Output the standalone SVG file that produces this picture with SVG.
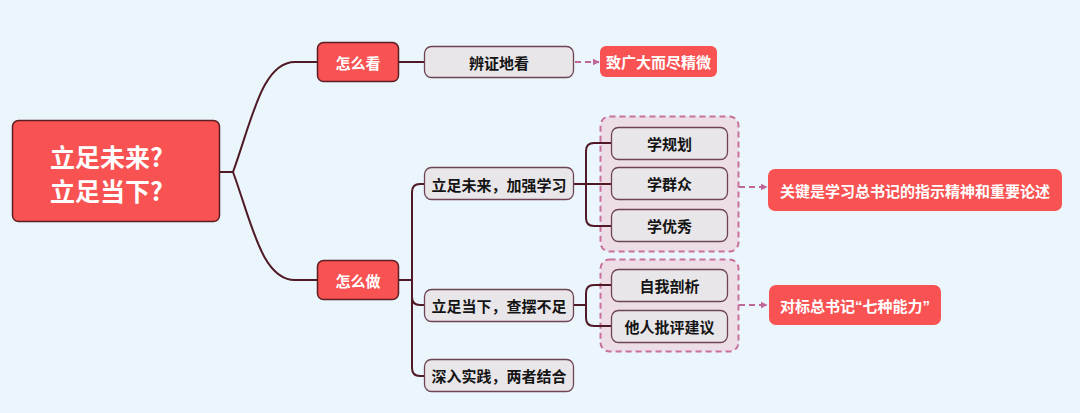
<svg xmlns="http://www.w3.org/2000/svg" width="1080" height="413" viewBox="0 0 1080 413">
  <defs>
    <marker id="arrow" viewBox="0 0 10 10" refX="9" refY="5" markerWidth="7" markerHeight="7" markerUnits="userSpaceOnUse" orient="auto">
      <path d="M0,0 L10,5 L0,10 Z" fill="#c0679a"/>
    </marker>
    <style>
      text { font-family: "Noto Sans CJK SC", "Noto Sans", "Liberation Sans", sans-serif; font-weight: bold; text-anchor: middle; dominant-baseline: central; }
      .q { font-family: "Liberation Sans", "Noto Sans", sans-serif; }
      .red { fill: #f95252; stroke: #5c1e25; stroke-width: 1.5; }
      .callout { fill: #f95252; stroke: none; }
      .gray { fill: #e8e6e9; stroke: #6e4454; stroke-width: 1.3; }
      .group { fill: #ecdde7; stroke: #c9709b; stroke-width: 2; stroke-dasharray: 6 4; }
      .wt { fill: #ffffff; font-size: 15px; }
      .bt { fill: #141414; font-size: 15px; }
      .conn { fill: none; stroke: #4f1a26; stroke-width: 2; }
      .dash { fill: none; stroke: #c0679a; stroke-width: 2; stroke-dasharray: 6 4; }
    </style>
  </defs>
  <rect x="0" y="0" width="1080" height="413" fill="#eaf6fc"/>

  <g id="groups">
    <rect class="group" x="600.5" y="116.5" width="138" height="135" rx="9"/>
    <rect class="group" x="600.5" y="259.5" width="138" height="92" rx="9"/>
  </g>

  <g id="connectors">
    <path class="conn" d="M220,172 H233 C252,120 262,62 295,62 H317"/>
    <path class="conn" d="M233,172 C252,224 262,280 295,280 H317"/>
    <path class="conn" d="M399,62 H424"/>
    <path class="conn" d="M399,280 H412"/>
    <path class="conn" d="M412,280 V192 Q412,184 420,184 H424"/>
    <path class="conn" d="M412,280 V297 Q412,305 420,305 H424"/>
    <path class="conn" d="M412,280 V368 Q412,376 420,376 H424"/>
    <path class="conn" d="M574,184 H611"/>
    <path class="conn" d="M586,184 V151 Q586,143 594,143 H611"/>
    <path class="conn" d="M586,184 V218 Q586,226 594,226 H611"/>
    <path class="conn" d="M574,305 H586"/>
    <path class="conn" d="M586,305 V293 Q586,285 594,285 H611"/>
    <path class="conn" d="M586,305 V318 Q586,326 594,326 H611"/>
    <path class="dash" d="M575,62 H599" marker-end="url(#arrow)"/>
    <path class="dash" d="M739,187 H767" marker-end="url(#arrow)"/>
    <path class="dash" d="M739,305 H767" marker-end="url(#arrow)"/>
  </g>

  <g id="root">
    <rect class="red" x="12.5" y="120.5" width="207" height="101" rx="6"/>
    <text x="50" y="156" style="text-anchor:start;fill:#fff;font-size:25px">立足未来?</text>
    <text x="50" y="190" style="text-anchor:start;fill:#fff;font-size:25px">立足当下?</text>
  </g>

  <g id="n-kan">
    <rect class="red" x="317.5" y="42.5" width="81" height="39" rx="6"/>
    <text class="wt" x="358" y="62">怎么看</text>
  </g>
  <g id="n-bianzheng">
    <rect class="gray" x="424.5" y="46.5" width="149" height="31" rx="7"/>
    <text class="bt" x="499" y="62">辨证地看</text>
  </g>
  <g id="n-zhiguangda">
    <rect class="callout" x="600" y="46" width="117" height="31" rx="6"/>
    <text class="wt" x="658.5" y="61.5">致广大而尽精微</text>
  </g>

  <g id="n-zuo">
    <rect class="red" x="317.5" y="260.5" width="81" height="39" rx="6"/>
    <text class="wt" x="358" y="280">怎么做</text>
  </g>

  <g id="n-weilai">
    <rect class="gray" x="424.5" y="167.5" width="149" height="32" rx="7"/>
    <text class="bt" x="499" y="184">立足未来，加强学习</text>
  </g>
  <g id="n-guihua">
    <rect class="gray" x="611.5" y="127.5" width="116" height="32" rx="7"/>
    <text class="bt" x="669.5" y="143.5">学规划</text>
  </g>
  <g id="n-qunzhong">
    <rect class="gray" x="611.5" y="167.5" width="116" height="32" rx="7"/>
    <text class="bt" x="669.5" y="183.5">学群众</text>
  </g>
  <g id="n-youxiu">
    <rect class="gray" x="611.5" y="209.5" width="116" height="32" rx="7"/>
    <text class="bt" x="669.5" y="225.5">学优秀</text>
  </g>
  <g id="n-guanjian">
    <rect class="callout" x="768" y="169" width="294" height="42" rx="7"/>
    <text class="wt" x="915" y="190">关键是学习总书记的指示精神和重要论述</text>
  </g>

  <g id="n-dangxia">
    <rect class="gray" x="424.5" y="289.5" width="149" height="32" rx="7"/>
    <text class="bt" x="499" y="305.5">立足当下，查摆不足</text>
  </g>
  <g id="n-ziwo">
    <rect class="gray" x="611.5" y="269.5" width="116" height="32" rx="7"/>
    <text class="bt" x="669.5" y="285.5">自我剖析</text>
  </g>
  <g id="n-taren">
    <rect class="gray" x="611.5" y="310.5" width="116" height="32" rx="7"/>
    <text class="bt" x="669.5" y="326.5">他人批评建议</text>
  </g>
  <g id="n-duibiao">
    <rect class="callout" x="769" y="285" width="172" height="40" rx="7"/>
    <text class="wt" x="855" y="305">对标总书记<tspan class="q">“</tspan>七种能力<tspan class="q">”</tspan></text>
  </g>

  <g id="n-shijian">
    <rect class="gray" x="424.5" y="359.5" width="149" height="32" rx="7"/>
    <text class="bt" x="499" y="375.5">深入实践，两者结合</text>
  </g>
</svg>
